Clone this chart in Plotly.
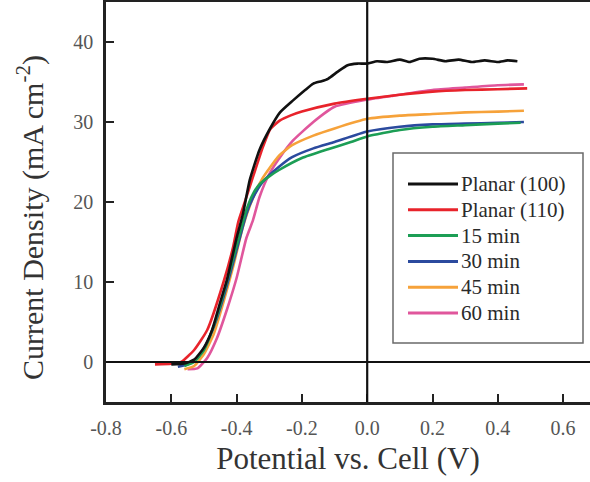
import plotly.graph_objects as go

# Linear sweep voltammetry curves: potential (V) vs. current density (mA cm^-2)
planar100_v = [-0.60, -0.56, -0.53, -0.50, -0.475, -0.45, -0.43, -0.40, -0.38, -0.36, -0.33, -0.30,
               -0.267, -0.227, -0.19, -0.165, -0.14, -0.12, -0.09, -0.06, -0.03, 0.00, 0.03, 0.06,
               0.10, 0.13, 0.16, 0.20, 0.24, 0.28, 0.32, 0.36, 0.40, 0.43, 0.46]
planar100_j = [-0.3, -0.2, 0.3, 1.8, 4.0, 7.5, 10.2, 15.5, 18.6, 22.7, 26.5, 29.0,
               31.2, 32.7, 34.0, 34.8, 35.1, 35.4, 36.3, 37.1, 37.3, 37.3, 37.6, 37.5,
               37.8, 37.5, 37.9, 37.9, 37.6, 37.8, 37.5, 37.7, 37.5, 37.7, 37.6]

planar110_v = [-0.65, -0.60, -0.57, -0.53, -0.49, -0.44, -0.41, -0.395, -0.37, -0.343, -0.32, -0.297,
               -0.267, -0.236, -0.20, -0.10, 0.00, 0.10, 0.20, 0.30, 0.40, 0.49]
planar110_j = [-0.3, -0.2, 0.0, 1.5, 4.0, 10.0, 14.5, 17.5, 20.6, 24.0, 26.8, 29.1,
               30.2, 30.8, 31.3, 32.3, 32.9, 33.4, 33.8, 34.0, 34.1, 34.2]

min15_v = [-0.56, -0.53, -0.50, -0.47, -0.44, -0.42, -0.39, -0.37, -0.35, -0.33, -0.30, -0.27,
           -0.20, -0.12, -0.05, 0.00, 0.10, 0.20, 0.30, 0.40, 0.47]
min15_j = [-0.5, 0.0, 1.5, 4.5, 8.5, 11.5, 16.0, 19.0, 21.0, 22.2, 23.2, 24.0,
           25.5, 26.6, 27.5, 28.2, 29.0, 29.4, 29.6, 29.8, 29.9]

min30_v = [-0.58, -0.55, -0.52, -0.49, -0.46, -0.43, -0.40, -0.37, -0.35, -0.32, -0.27, -0.23,
           -0.165, -0.10, 0.00, 0.10, 0.20, 0.30, 0.40, 0.48]
min30_j = [-0.6, -0.3, 0.5, 2.5, 5.5, 9.5, 14.0, 18.5, 20.5, 22.5, 24.4, 25.6,
           26.7, 27.5, 28.8, 29.4, 29.7, 29.8, 29.9, 30.0]

min45_v = [-0.56, -0.53, -0.50, -0.47, -0.44, -0.41, -0.38, -0.35, -0.32, -0.27, -0.23, -0.165,
           -0.10, 0.00, 0.10, 0.20, 0.30, 0.40, 0.48]
min45_j = [-0.9, -0.5, 1.0, 3.5, 7.5, 12.0, 17.0, 20.5, 23.0, 25.8, 27.1, 28.3,
           29.2, 30.4, 30.8, 31.0, 31.2, 31.3, 31.4]

min60_v = [-0.55, -0.52, -0.49, -0.46, -0.43, -0.40, -0.37, -0.35, -0.33, -0.30, -0.267, -0.227,
           -0.165, -0.10, 0.00, 0.08, 0.20, 0.30, 0.40, 0.48]
min60_j = [-0.9, -0.8, 0.5, 3.0, 6.5, 10.5, 15.5, 17.7, 20.6, 23.5, 25.6, 27.7,
           30.0, 31.9, 32.8, 33.3, 34.0, 34.3, 34.6, 34.7]

series_names = ["Planar (100)", "Planar (110)", "15 min", "30 min", "45 min", "60 min"]
series_colors = ["#111111", "#e8232b", "#1c9e55", "#2b4a9e", "#f6a23a", "#e0569c"]
series_v = [planar100_v, planar110_v, min15_v, min30_v, min45_v, min60_v]
series_j = [planar100_j, planar110_j, min15_j, min30_j, min45_j, min60_j]

x_ticks = [-0.8, -0.6, -0.4, -0.2, 0.0, 0.2, 0.4, 0.6]
x_tick_labels = ["-0.8", "-0.6", "-0.4", "-0.2", "0.0", "0.2", "0.4", "0.6"]
y_ticks = [0, 10, 20, 30, 40]
y_tick_labels = ["0", "10", "20", "30", "40"]

x_title = "Potential vs. Cell (V)"
y_title = "Current Density (mA cm<sup>-2</sup>)"

serif = "Liberation Serif"

fig = go.Figure()

# draw in reverse so Planar (100) sits on top where curves overlap
for name, color, v, j in reversed(list(zip(series_names, series_colors, series_v, series_j))):
    fig.add_trace(go.Scatter(x=v, y=j, mode="lines", name=name,
                             line=dict(color=color, width=2.6, shape="spline", smoothing=0.5),
                             showlegend=False))

# reference lines at zero potential and zero current
fig.add_shape(type="line", xref="x", yref="paper", x0=0, x1=0, y0=0, y1=1,
              line=dict(color="#111111", width=2.2), layer="above")
fig.add_shape(type="line", xref="paper", yref="y", x0=0, x1=1, y0=0, y1=0,
              line=dict(color="#111111", width=2.2), layer="above")

# plot-area pixel helpers for the legend box and the vertical axis title
L, R, T, B = 106, 590, 2, 402
def px_x(p):
    return (p - L) / (R - L)
def px_y(p):
    return (B - p) / (B - T)

fig.add_shape(type="rect", xref="paper", yref="paper",
              x0=px_x(393), x1=px_x(583), y0=px_y(343), y1=px_y(153),
              line=dict(color="#6a6a6a", width=1.5), fillcolor="white", layer="above")
for i, (name, color) in enumerate(zip(series_names, series_colors)):
    yy = px_y(184 + 25.8 * i)
    fig.add_shape(type="line", xref="paper", yref="paper",
                  x0=px_x(408), x1=px_x(458), y0=yy, y1=yy,
                  line=dict(color=color, width=3), layer="above")
    fig.add_annotation(xref="paper", yref="paper", x=px_x(459), y=yy,
                       text=name, showarrow=False, xanchor="left", yanchor="middle",
                       font=dict(family=serif, size=21, color="#2a2a2a"))

# vertical axis title
fig.add_annotation(xref="paper", yref="paper", x=px_x(30), y=px_y(218),
                   text=y_title, textangle=-90, showarrow=False,
                   xanchor="center", yanchor="middle",
                   font=dict(family=serif, size=30, color="#333333"))

fig.update_layout(
    width=590, height=482,
    margin=dict(l=L, r=590 - R, t=T, b=482 - B),
    paper_bgcolor="white", plot_bgcolor="white",
    showlegend=False,
    font=dict(family=serif, color="#444444"),
)
fig.update_xaxes(
    range=[-0.8, -0.8 + (R - L) / 326.5],
    tickvals=x_ticks, ticktext=x_tick_labels,
    ticks="inside", ticklen=8, tickwidth=2, tickcolor="#222222",
    showline=True, mirror=True, linecolor="#222222", linewidth=2.5,
    showgrid=False, zeroline=False,
    tickfont=dict(family=serif, size=20, color="#555555"),
    ticklabelstandoff=6,
    title=dict(text=x_title, font=dict(family=serif, size=31, color="#333333"), standoff=10),
)
fig.update_yaxes(
    range=[-5, 45],
    tickvals=y_ticks, ticktext=y_tick_labels,
    ticks="inside", ticklen=8, tickwidth=2, tickcolor="#222222",
    showline=True, mirror=False, linecolor="#222222", linewidth=2.5,
    showgrid=False, zeroline=False,
    tickfont=dict(family=serif, size=20, color="#555555"),
    ticklabelstandoff=6,
)

fig.write_html("out.html")
